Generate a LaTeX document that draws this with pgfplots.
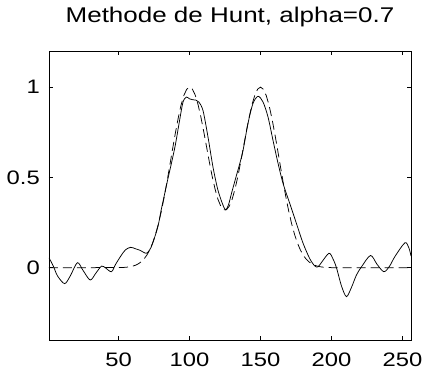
\documentclass[border=0pt]{standalone}
\usepackage{fontspec}
\setmainfont{Liberation Sans}[FakeStretch=1.22]
\usepackage{pgfplots}
\pgfplotsset{compat=1.18}
\begin{document}
\begin{tikzpicture}
\begin{axis}[
  scale only axis,
  width=362pt, height=289pt,
  xmin=1, xmax=256, ymin=-0.4, ymax=1.2,
  xtick={50,100,150,200,250},
  ytick={0,0.5,1},
  tick align=inside,
  major tick length=4pt,
  /pgf/number format/assume math mode=true,
  tick label style={font=\fontsize{19.5}{21}\selectfont},
  xticklabel style={anchor=north, inner sep=0pt, yshift=-12.5pt},
  yticklabel style={anchor=east, inner sep=0pt, xshift=-9pt},
  axis line style={line width=0.8pt, black},
  every tick/.style={black, line width=0.6pt},
  title={Methode de Hunt, alpha=0.7},
  title style={font=\fontsize{21.3}{23}\selectfont, at={(0.5,1)}, anchor=base, yshift=22pt, inner sep=0pt},
]
\addplot[black, line width=0.75pt, dash pattern=on 9pt off 5pt] coordinates {
(1,0) (50,0.001) (52,0.001) (54,0.002) (56,0.0034) (58,0.0056) (60,0.009) (62,0.0143)
(64,0.0221) (66,0.0334) (68,0.0492) (70,0.0709) (72,0.0997) (74,0.137) (76,0.184)
(78,0.241) (80,0.308) (82,0.386) (84,0.471) (86,0.562) (88,0.655) (90,0.745)
(92,0.828) (94,0.900) (96,0.954) (98,0.988) (100,1.000) (102,0.989) (104,0.956)
(106,0.903) (108,0.834) (110,0.754) (112,0.669) (114,0.584) (116,0.504) (118,0.435)
(120,0.379) (122,0.341) (124,0.321) (126,0.321) (128,0.341) (130,0.379) (132,0.435)
(134,0.504) (136,0.584) (138,0.669) (140,0.754) (142,0.834) (144,0.903) (146,0.956)
(148,0.989) (150,1.000) (152,0.988) (154,0.954) (156,0.900) (158,0.828) (160,0.745)
(162,0.655) (164,0.562) (166,0.471) (168,0.386) (170,0.308) (172,0.241) (174,0.184)
(176,0.137) (178,0.0997) (180,0.0709) (182,0.0492) (184,0.0334) (186,0.0221)
(188,0.0143) (190,0.009) (192,0.0056) (194,0.0034) (196,0.002) (198,0.0011)
(200,0.0006) (256,0)
};
\addplot[black, line width=0.75pt, smooth] coordinates {
(1,0.055) (4,0.01) (7,-0.045) (12,-0.088) (16,-0.045) (21,0.028) (25,-0.015)
(30,-0.068) (34,-0.03) (38,0.009) (41,-0.002) (45,-0.022) (48,0.02) (52,0.07)
(55,0.1) (58.5,0.113) (62,0.105) (65,0.097) (69.5,0.08) (72,0.1) (74,0.135)
(77.7,0.227) (80,0.319) (82.5,0.41) (84.8,0.494) (87.2,0.577) (90,0.68)
(93,0.816) (95.4,0.917) (97.8,0.945) (100,0.935) (102.4,0.93) (104.5,0.928)
(106.6,0.917) (109.5,0.87) (113,0.724) (116.5,0.558) (120,0.43) (123.6,0.346)
(125.5,0.32) (127.5,0.35) (129.5,0.41) (133,0.51) (135.5,0.58) (137.7,0.65)
(141.2,0.80) (144.7,0.91) (148.3,0.949) (151.8,0.917) (155.3,0.834) (158.8,0.705)
(162,0.59) (165.9,0.466) (170.6,0.356) (175.3,0.245) (180,0.135) (184.7,0.05)
(188.2,0.01) (190.5,0.005) (193,0.03) (198.2,0.08) (201,0.05) (203.5,0.0)
(207,-0.1) (210.5,-0.16) (214,-0.11) (217.6,-0.04) (221.2,0.006) (227.5,0.068)
(232,0.02) (236.9,-0.022) (241,0.01) (244.6,0.061) (251.7,0.138) (254.5,0.11)
(256,0.065)
};
\end{axis}
\pgfresetboundingbox
\path[use as bounding box] ([xshift=-49pt,yshift=-29pt]current axis.south west) rectangle ++(424pt,369pt);
\end{tikzpicture}
\end{document}
